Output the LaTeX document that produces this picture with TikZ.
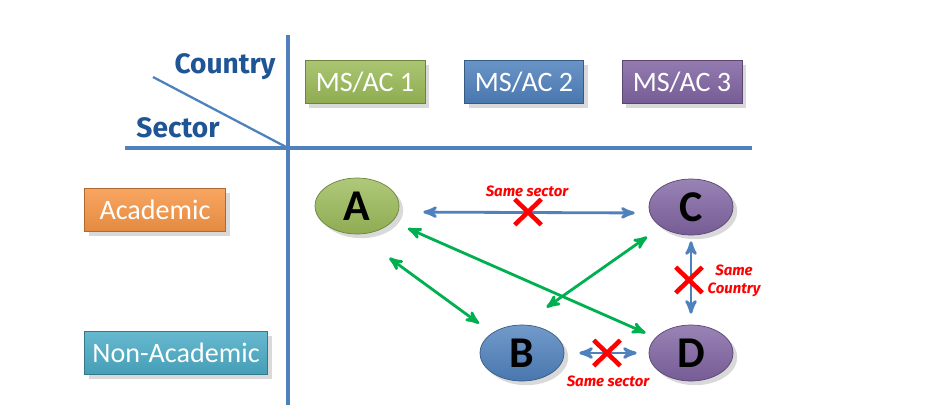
\documentclass[tikz,border=0pt]{standalone}
\usepackage{fontspec}
\setmainfont{Carlito}
\newfontfamily\headfont{Fira Sans}
\usetikzlibrary{arrows}
\usetikzlibrary{shapes.geometric,shapes.misc}
\usetikzlibrary{shadows}
\definecolor{axisblue}{HTML}{4F81BD}
\definecolor{headblue}{HTML}{1F5495}
\definecolor{cgreen}{HTML}{9BBB59}
\definecolor{cblue}{HTML}{4F81BD}
\definecolor{cpurple}{HTML}{8064A2}
\definecolor{corange}{HTML}{F79646}
\definecolor{cteal}{HTML}{4BACC6}
\definecolor{linkgreen}{HTML}{00B050}

\begin{document}
\begin{tikzpicture}[x=0.02cm,y=-0.02cm,>=stealth',
  colbox/.style={draw=#1!70!black,top color=#1!85!white,bottom color=#1!92!black,
    text=white,minimum height=0.86cm,inner sep=0pt,
    font=\fontsize{16}{16}\selectfont,drop shadow={opacity=0.3}},
  partner/.style={ellipse,draw=#1!70!black,top color=#1!80!white,bottom color=#1!92!black,
    minimum width=1.68cm,minimum height=1.12cm,inner sep=0pt,
    font=\fontsize{25}{25}\selectfont\bfseries,drop shadow={opacity=0.3}},
  banned/.style={axisblue,line width=1.6pt,<->},
  allowed/.style={linkgreen,line width=1.6pt,<->},
  nope/.style={cross out,draw=red,line width=2.6pt,minimum width=0.44cm,minimum height=0.42cm,inner sep=0pt},
  why/.style={text=red,font=\headfont\fontsize{8.5}{10}\selectfont\bfseries\itshape,align=center}]
\useasboundingbox (0,0) rectangle (926,416);

% axes
\draw[axisblue,line width=2pt] (288,35) -- (288,405);
\draw[axisblue,line width=2pt] (125,148) -- (752,148);
\draw[axisblue,line width=1.3pt] (153,77) -- (288,148);
\node (country) at (225,67) [text=headblue,font=\headfont\fontsize{16}{16}\selectfont\bfseries] {Country};
\node (sector) at (178,128) [text=headblue,font=\headfont\fontsize{16}{16}\selectfont\bfseries] {Sector};

% countries and sectors
\node (ms1) at (365,82) [colbox=cgreen,minimum width=2.4cm] {MS/AC 1};
\node (ms2) at (524,82) [colbox=cblue,minimum width=2.38cm] {MS/AC 2};
\node (ms3) at (682,82) [colbox=cpurple,minimum width=2.4cm] {MS/AC 3};
\node (acad) at (155,210) [colbox=corange,minimum width=2.82cm] {Academic};
\node (nonacad) at (176,353) [colbox=cteal,minimum width=3.66cm] {Non-Academic};

% partners
\node (A) at (357,206) [partner=cgreen] {A};
\node (C) at (691,207) [partner=cpurple] {C};
\node (B) at (522,353) [partner=cblue] {B};
\node (D) at (691,353) [partner=cpurple] {D};

% forbidden links
\draw[banned,shorten <=0.48cm,shorten >=0.28cm] ([yshift=-0.12cm]A.east) -- ([yshift=-0.12cm]C.west);
\node (x1) at (528,212) [nope] {};
\node (w1) at (527,191) [why] {Same sector};
\draw[banned,shorten <=0.12cm,shorten >=0.22cm] (C) -- (D);
\node (x2) at (689,280) [nope] {};
\node (w2) at (734,281) [why] {Same\\Country};
\draw[banned,shorten <=0.3cm,shorten >=0.24cm] (B) -- (D);
\node (x3) at (607,353) [nope] {};
\node (w3) at (608,381) [why] {Same sector};

% allowed links
\draw[allowed,shorten <=0.34cm,shorten >=0.22cm] (A) -- (D);
\draw[allowed,shorten <=0.8cm,shorten >=0.32cm] (A.south) -- (B.north west);
\draw[allowed,shorten <=0.6cm,shorten >=0.34cm] (B.north) -- (C.south west);
\end{tikzpicture}
\end{document}
